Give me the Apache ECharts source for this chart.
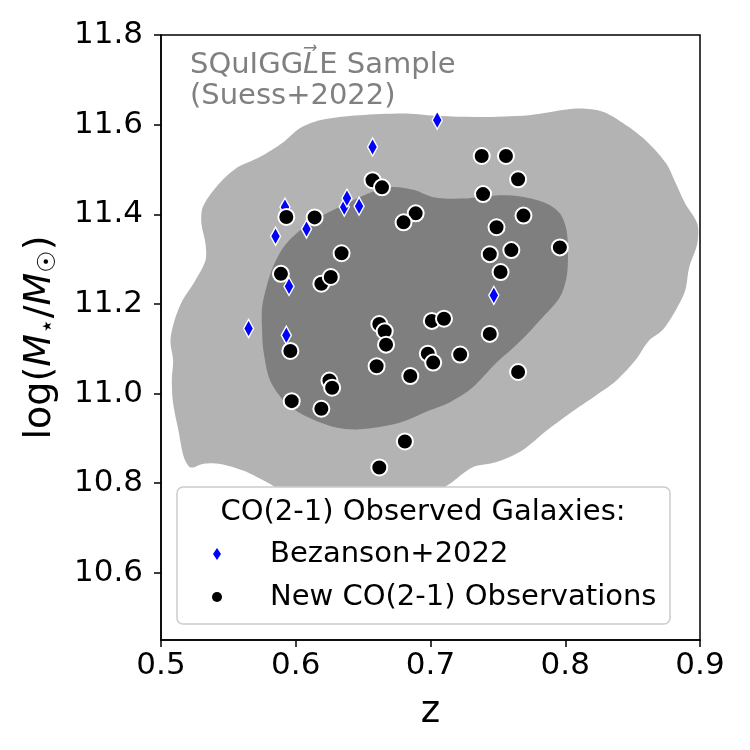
<!DOCTYPE html>
<html>
<head>
<meta charset="utf-8">
<script src="https://cdn.jsdelivr.net/npm/echarts@6.0.0/dist/echarts.min.js"></script>
<style>
  html, body { margin: 0; padding: 0; background: #fff; }
  #chart { width: 750px; height: 750px; }
</style>
</head>
<body>
<div id="chart"></div>
<script>
  // tick labels
  var xTicks = [0.5, 0.6, 0.7, 0.8, 0.9];
  var yTicks = [10.6, 10.8, 11.0, 11.2, 11.4, 11.6, 11.8];

  // Bezanson+2022 galaxies [z, logM]
  var bezanson = [
    [0.705, 11.610], [0.657, 11.550], [0.592, 11.416], [0.636, 11.416],
    [0.638, 11.436], [0.647, 11.418], [0.608, 11.367], [0.585, 11.351],
    [0.595, 11.239], [0.565, 11.145], [0.593, 11.130], [0.747, 11.219]
  ];

  // new CO(2-1) observations [z, logM]
  var newObs = [
    [0.593, 11.394], [0.614, 11.393], [0.634, 11.313], [0.589, 11.267],
    [0.619, 11.245], [0.626, 11.260], [0.738, 11.530], [0.756, 11.530],
    [0.657, 11.476], [0.664, 11.460], [0.765, 11.478], [0.739, 11.445],
    [0.689, 11.402], [0.680, 11.382], [0.769, 11.397], [0.749, 11.371],
    [0.760, 11.320], [0.744, 11.311], [0.752, 11.271], [0.596, 11.095],
    [0.625, 11.029], [0.627, 11.013], [0.597, 10.983], [0.619, 10.966],
    [0.662, 11.155], [0.666, 11.139], [0.667, 11.109], [0.660, 11.061],
    [0.685, 11.039], [0.701, 11.162], [0.710, 11.167], [0.698, 11.089],
    [0.702, 11.069], [0.722, 11.087], [0.744, 11.133], [0.765, 11.048],
    [0.681, 10.893], [0.662, 10.835], [0.796, 11.326]
  ];

  // SQuIGGLE sample density contours [z, logM]
  var outerContour = [
    [0.590, 11.559], [0.603, 11.592], [0.618, 11.610], [0.647, 11.621],
    [0.682, 11.625], [0.707, 11.619], [0.736, 11.617], [0.773, 11.621],
    [0.808, 11.636], [0.828, 11.629], [0.847, 11.595], [0.862, 11.558],
    [0.875, 11.513], [0.882, 11.469], [0.889, 11.424], [0.898, 11.379],
    [0.898, 11.335], [0.892, 11.282], [0.889, 11.230], [0.882, 11.186],
    [0.872, 11.141], [0.862, 11.118], [0.852, 11.074], [0.838, 11.029],
    [0.823, 10.996], [0.803, 10.955], [0.786, 10.917], [0.768, 10.873],
    [0.749, 10.847], [0.731, 10.835], [0.714, 10.798], [0.699, 10.772],
    [0.640, 10.761], [0.596, 10.772], [0.581, 10.798], [0.561, 10.828],
    [0.544, 10.843], [0.531, 10.843], [0.522, 10.835], [0.517, 10.858],
    [0.513, 10.917], [0.509, 10.978], [0.508, 11.029], [0.509, 11.074],
    [0.507, 11.118], [0.510, 11.163], [0.516, 11.208], [0.524, 11.245],
    [0.533, 11.297], [0.533, 11.335], [0.530, 11.379], [0.531, 11.416],
    [0.541, 11.461], [0.556, 11.503], [0.573, 11.527]
  ];
  var innerContour = [
    [0.591, 11.327], [0.603, 11.364], [0.618, 11.394], [0.638, 11.424],
    [0.657, 11.450], [0.672, 11.461], [0.688, 11.454], [0.702, 11.438],
    [0.724, 11.435], [0.749, 11.442], [0.768, 11.439], [0.786, 11.424],
    [0.796, 11.402], [0.801, 11.364], [0.802, 11.305], [0.801, 11.260],
    [0.796, 11.215], [0.781, 11.163], [0.771, 11.130], [0.761, 11.101],
    [0.749, 11.069], [0.731, 11.013], [0.714, 10.980], [0.699, 10.962],
    [0.677, 10.935], [0.647, 10.920], [0.630, 10.924], [0.610, 10.946],
    [0.593, 10.978], [0.581, 11.029], [0.576, 11.096], [0.575, 11.141],
    [0.575, 11.192], [0.579, 11.246], [0.583, 11.282]
  ];

  var font = 'DejaVu Sans';

  function contour(name, pts, color) {
    return {
      type: 'custom',
      name: name,
      silent: true,
      clip: true,
      z: 1,
      data: [[0.7, 11.2]],
      renderItem: function (params, api) {
        var points = pts.map(function (p) { return api.coord(p); });
        return {
          type: 'polygon',
          shape: { points: points, smooth: 0.3 },
          style: { fill: color }
        };
      }
    };
  }

  var myChart = echarts.init(document.getElementById('chart'));
  myChart.setOption({
    animation: false,
    backgroundColor: '#fff',
    grid: {
      left: 161, top: 35, width: 539, height: 605,
      show: true, borderColor: '#000', borderWidth: 1.5
    },
    xAxis: {
      type: 'value',
      min: 0.5, max: 0.9,
      name: 'z',
      nameLocation: 'middle',
      nameGap: 54,
      nameTextStyle: { fontSize: 37, fontFamily: font, color: '#000' },
      axisLine: { show: true, lineStyle: { color: '#000', width: 1.5 } },
      axisTick: { show: true, length: 7, customValues: xTicks, lineStyle: { color: '#000', width: 1.5 } },
      axisLabel: {
        customValues: xTicks, fontSize: 31, fontFamily: font, color: '#000', margin: 10,
        formatter: function (v) { return v.toFixed(1); }
      },
      splitLine: { show: false }
    },
    yAxis: {
      type: 'value',
      min: 10.45, max: 11.8,
      name: '{n|log(}{i|M}{s|\u22C6}{n|/}{i|M}{s|\u2609}{n|)}',
      nameLocation: 'middle',
      nameGap: 100,
      nameTextStyle: {
        fontSize: 38, fontFamily: font, color: '#000',
        rich: {
          n: { fontSize: 38, fontFamily: font, color: '#000' },
          i: { fontSize: 38, fontFamily: font, fontStyle: 'italic', color: '#000' },
          s: { fontSize: 25, fontFamily: font, color: '#000', padding: [16, 0, 0, 0] }
        }
      },
      axisLine: { show: true, lineStyle: { color: '#000', width: 1.5 } },
      axisTick: { show: true, length: 7, customValues: yTicks, lineStyle: { color: '#000', width: 1.5 } },
      axisLabel: {
        customValues: yTicks, fontSize: 31, fontFamily: font, color: '#000', margin: 18,
        formatter: function (v) { return v.toFixed(1); }
      },
      splitLine: { show: false }
    },
    series: [
      contour('outer', outerContour, '#b3b3b3'),
      contour('inner', innerContour, '#7f7f7f'),
      {
        type: 'scatter',
        name: 'Bezanson+2022',
        data: bezanson,
        symbol: 'diamond',
        symbolSize: [10, 18],
        itemStyle: { color: '#0000ff', borderColor: '#fff', borderWidth: 1.5, opacity: 1 },
        z: 3
      },
      {
        type: 'scatter',
        name: 'New CO(2-1) Observations',
        data: newObs,
        symbol: 'circle',
        symbolSize: 16,
        itemStyle: { color: '#000', borderColor: '#fff', borderWidth: 2, opacity: 1 },
        z: 4
      }
    ],
    graphic: [
      {
        type: 'text', x: 190, y: 65, z: 100,
        style: {
          text: '{n|SQuIGG}{i|L\u20D7}{n|E Sample}',
          verticalAlign: 'middle',
          rich: {
            n: { fontSize: 29, fontFamily: font, fill: '#808080' },
            i: { fontSize: 29, fontFamily: font, fontStyle: 'italic', fill: '#808080' }
          }
        }
      },
      {
        type: 'text', x: 190, y: 96, z: 100,
        style: { text: '(Suess+2022)', fontSize: 29, fontFamily: font, fill: '#808080', verticalAlign: 'middle' }
      },
      {
        type: 'rect', z: 100,
        shape: { x: 177, y: 487, width: 493, height: 137, r: 6 },
        style: { fill: '#fff', stroke: '#cccccc', lineWidth: 1.5 }
      },
      {
        type: 'text', x: 423, y: 512, z: 101,
        style: { text: 'CO(2-1) Observed Galaxies:', fontSize: 29, fontFamily: font, fill: '#000', align: 'center', verticalAlign: 'middle' }
      },
      {
        type: 'polygon', z: 101,
        shape: { points: [[217, 548], [221, 554], [217, 560], [213, 554]] },
        style: { fill: '#0000ff' }
      },
      {
        type: 'text', x: 270, y: 554, z: 101,
        style: { text: 'Bezanson+2022', fontSize: 29, fontFamily: font, fill: '#000', verticalAlign: 'middle' }
      },
      {
        type: 'circle', z: 101,
        shape: { cx: 217, cy: 597, r: 5 },
        style: { fill: '#000' }
      },
      {
        type: 'text', x: 270, y: 597, z: 101,
        style: { text: 'New CO(2-1) Observations', fontSize: 29, fontFamily: font, fill: '#000', verticalAlign: 'middle' }
      }
    ]
  });
</script>
</body>
</html>
